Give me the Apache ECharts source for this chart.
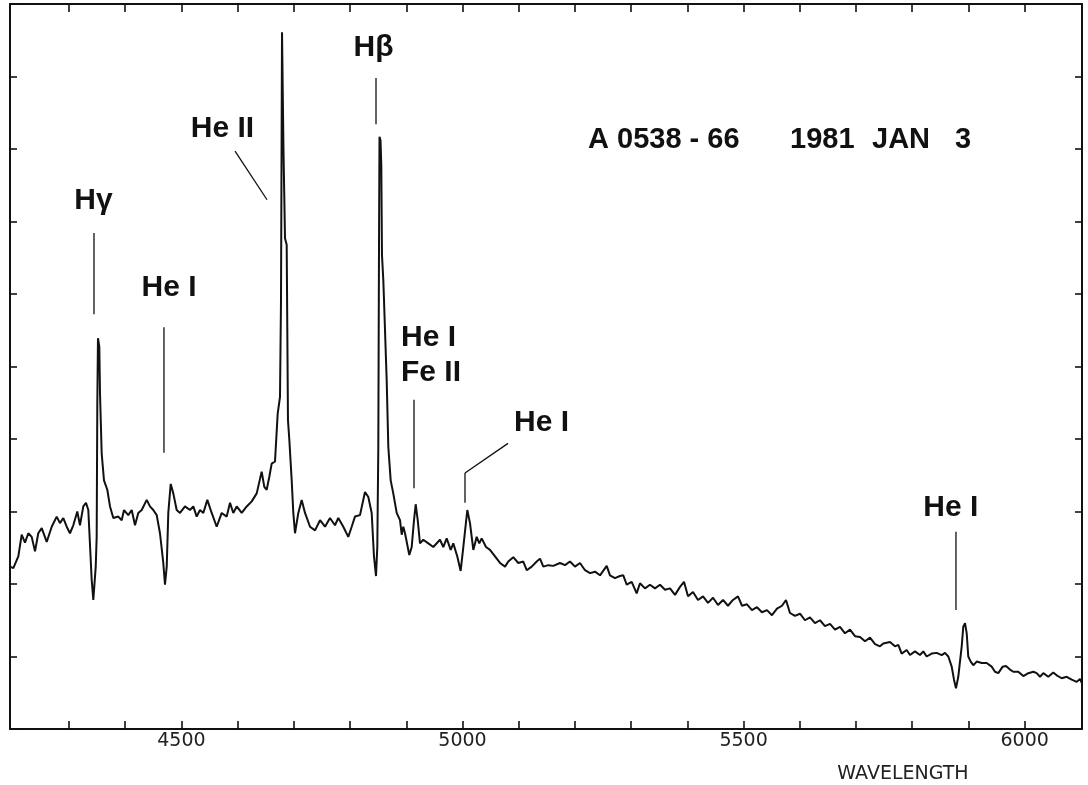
<!DOCTYPE html>
<html>
<head>
<meta charset="utf-8">
<script src="https://cdn.jsdelivr.net/npm/echarts@6/dist/echarts.min.js"></script>
<style>
html,body{margin:0;padding:0;background:#fff;}
#chart{width:1088px;height:785px;}
</style>
</head>
<body>
<div id="chart"></div>
<script>
// ---- data (wavelength in Angstrom, relative flux) ----
const wavelength = [
4195,4200.9,4209.8,4215.8,4221.7,4227.6,4233.6,4239.5,4245.3,4251.4,4260.3,4269.2,4278.1,4283.9,4289.8,4295.9,4301.7,4307.6,4314.7,4319.5,
4325.4,4330.2,4334.3,4340.3,4343.2,4347.5,4349.2,4350.3,4351.5,4353.9,4355.1,4358.1,4362.2,4368.1,4372.9,4378.8,4387.7,4393.7,4397.8,4405.4,
4411.5,4417.4,4423.2,4429.3,4438.2,4444.0,4449.9,4456.0,4461.8,4467.7,4470.7,4473.8,4476.6,4480.9,4485.5,4491.5,4497.4,4506.3,4515.2,4521.1,
4527.1,4533.0,4538.9,4546.0,4553.8,4562.7,4571.6,4580.5,4586.4,4592.2,4598.3,4607.2,4616.1,4625.0,4633.9,4642.7,4647.4,4651.6,4656.3,4660.5,
4666.4,4671.2,4675.3,4677.1,4678.3,4678.9,4680.6,4681.5,4684.2,4687.2,4689.5,4691.9,4696.1,4699.0,4702.0,4707.9,4713.9,4719.8,4728.7,4737.6,
4746.5,4755.4,4764.2,4773.1,4779.0,4787.9,4796.8,4802.8,4808.7,4817.6,4826.5,4832.4,4838.4,4842.5,4846.1,4848.4,4850.2,4851.4,4852.3,4854.1,
4855.5,4856.7,4859.1,4860.3,4865.1,4868.0,4872.2,4876.8,4882.9,4888.8,4891.8,4894.6,4897.7,4905.3,4909.6,4913.7,4916.7,4920.3,4924.3,4930.2,
4939.1,4948.0,4959.9,4965.8,4971.8,4979.0,4983.6,4990.7,4996.7,5001.4,5008.5,5013.3,5019.2,5025.2,5029.8,5034.1,5041.8,5048.9,5057.8,5066.7,
5075.6,5081.4,5090.3,5099.2,5108.1,5114.2,5123.1,5132.0,5137.8,5143.7,5152.6,5161.5,5173.4,5182.3,5191.2,5200.1,5209.0,5217.9,5226.8,5235.7,
5244.6,5256.5,5262.3,5271.2,5280.1,5286.0,5292.1,5300.9,5309.8,5315.7,5324.6,5333.5,5342.4,5351.3,5360.2,5369.1,5378.0,5386.9,5394.0,5401.1,
5410.0,5418.9,5427.8,5436.7,5445.6,5454.5,5463.4,5472.2,5481.1,5490.0,5497.2,5506.0,5514.9,5523.8,5532.7,5541.6,5550.5,5559.4,5568.3,5575.4,
5582.5,5591.4,5600.3,5609.2,5618.1,5627.0,5635.9,5644.8,5653.7,5662.6,5671.5,5680.4,5689.3,5698.2,5707.1,5716.0,5724.9,5733.8,5742.6,5748.5,
5760.4,5769.3,5775.2,5781.2,5790.1,5796.0,5804.9,5813.8,5819.7,5825.7,5834.6,5843.5,5852.4,5858.3,5864.2,5870.2,5874.3,5877.8,5881.9,5888.0,
5890.8,5893.9,5896.9,5899.7,5904.0,5908.6,5914.7,5923.6,5932.4,5941.3,5947.2,5953.1,5960.9,5966.8,5973.9,5979.8,5988.7,5997.6,6006.5,6015.4,
6021.4,6027.3,6033.2,6042.0,6050.9,6057.0,6065.9,6074.8,6083.7,6092.6,6098.4,6102.0
];
const flux = [
2.24,2.22,2.38,2.68,2.57,2.70,2.65,2.45,2.70,2.77,2.58,2.79,2.93,2.84,2.91,2.79,2.70,2.81,3.00,2.81,
3.07,3.12,3.02,2.06,1.78,2.24,2.65,4.45,5.39,5.27,4.63,3.80,3.43,3.30,3.07,2.91,2.93,2.88,3.02,2.95,
3.02,2.81,2.98,3.02,3.16,3.07,3.02,2.95,2.70,2.29,1.99,2.24,2.98,3.38,3.25,3.02,2.98,3.07,3.02,3.07,
2.93,3.02,2.98,3.16,2.98,2.79,2.98,2.93,3.12,2.98,3.07,2.98,3.07,3.14,3.25,3.55,3.34,3.30,3.48,3.66,
3.69,4.35,4.58,5.92,8.40,9.61,9.61,7.99,6.77,6.68,4.26,3.99,3.43,2.98,2.70,2.98,3.16,2.98,2.79,2.74,
2.88,2.79,2.91,2.81,2.91,2.79,2.65,2.79,2.93,2.95,3.27,3.20,2.98,2.38,2.11,2.51,3.89,6.61,8.17,8.12,
7.78,6.54,6.19,5.92,4.81,3.89,3.43,3.25,2.98,2.88,2.68,2.79,2.70,2.40,2.51,2.88,3.10,2.88,2.56,2.61,
2.56,2.51,2.61,2.51,2.63,2.47,2.56,2.38,2.18,2.51,3.02,2.84,2.47,2.65,2.56,2.63,2.51,2.47,2.38,2.29,
2.24,2.31,2.37,2.29,2.31,2.19,2.24,2.31,2.35,2.24,2.26,2.25,2.29,2.26,2.31,2.24,2.29,2.19,2.15,2.17,
2.12,2.25,2.12,2.08,2.11,2.12,1.99,2.03,1.87,2.01,1.94,1.99,1.94,1.99,1.92,1.94,1.85,1.96,2.03,1.83,
1.89,1.78,1.83,1.74,1.81,1.71,1.78,1.70,1.78,1.83,1.70,1.72,1.64,1.68,1.61,1.64,1.57,1.66,1.70,1.78,
1.60,1.56,1.59,1.50,1.54,1.46,1.50,1.42,1.45,1.37,1.41,1.32,1.37,1.28,1.27,1.21,1.26,1.17,1.14,1.18,
1.20,1.14,1.16,1.04,1.09,1.02,1.07,1.02,1.07,1.00,1.04,1.05,1.02,1.05,1.00,0.86,0.68,0.56,0.72,1.14,
1.41,1.46,1.32,1.00,0.93,0.88,0.93,0.91,0.91,0.86,0.79,0.77,0.86,0.87,0.82,0.79,0.79,0.73,0.77,0.79,
0.77,0.72,0.77,0.72,0.78,0.74,0.70,0.72,0.68,0.65,0.69,0.63
];
const tickValues = [4300,4400,4500,4600,4700,4800,4900,5000,5100,5200,5300,5400,5500,5600,5700,5800,5900,6000];
const labelValues = [4500,5000,5500,6000];
const lineNames = ['Hγ','He I','He II','Hβ','He I','Fe II','He I','He I'];
const xTitle = 'WAVELENGTH';
const titleParts = ['A 0538 - 66','1981','JAN','3'];

// ---- layout of annotations (data coordinates) ----
const annLabelPos = [ // [lambda, value, align]
  [4343.5,7.28,'center'],[4477.8,6.09,'center'],[4573.0,8.28,'center'],[4841.6,9.39,'center'],
  [4890.5,5.40,'left'],[4890.5,4.92,'left'],[5091.6,4.23,'left'],[5868.6,3.05,'center']
];
const annSegments = [ // [l1,v1,l2,v2]
  [4344.4,6.84,4344.4,5.72],[4468.9,5.54,4468.9,3.81],[4595.3,7.97,4652.2,7.30],
  [4846.1,8.98,4846.1,8.34],[4913.7,4.54,4913.7,3.32],
  [5080.9,3.94,5004.4,3.53],[5004.4,3.53,5004.4,3.12],[5877.8,2.72,5877.8,1.64]
];

const chart = echarts.init(document.getElementById('chart'), null, {renderer:'canvas'});
const ink = '#111';
const data = wavelength.map((w,i)=>[w, flux[i]]);
const xMin = 4195, xMax = 6102;
const tickFont = '"DejaVu Sans", sans-serif';

function xAx(pos, showLabel){
  return {
    type:'value', position:pos, min:xMin, max:xMax,
    axisLine:{show:true, onZero:false, lineStyle:{color:ink, width:2}},
    axisTick:{show:true, inside:true, length:8, customValues:tickValues, lineStyle:{color:ink, width:1.6}},
    axisLabel:{show:showLabel, customValues:labelValues, margin:3, fontFamily:tickFont, fontSize:19, color:'#222',
      formatter:(v)=>String(v)},
    splitLine:{show:false}
  };
}
function yAx(pos){
  return {
    type:'value', position:pos, min:0, max:10, interval:1,
    axisLine:{show:true, onZero:false, lineStyle:{color:ink, width:2}},
    axisTick:{show:true, inside:true, length:7, lineStyle:{color:ink, width:1.6}},
    axisLabel:{show:false}, splitLine:{show:false}
  };
}

chart.setOption({
  animation:false,
  backgroundColor:'#fff',
  grid:{left:10, right:6, top:4, bottom:56},
  xAxis:[xAx('bottom', true), xAx('top', false)],
  yAxis:[yAx('left'), yAx('right')],
  series:[{
    type:'line', xAxisIndex:0, yAxisIndex:0, data:data,
    showSymbol:false, symbol:'none', smooth:false,
    lineStyle:{color:ink, width:2}
  }]
});

const P = (l,v)=>chart.convertToPixel({xAxisIndex:0, yAxisIndex:0}, [l,v]);
const g = [];
const boldFont = 'bold 30px "Liberation Sans", Arial, sans-serif';
annSegments.forEach(s=>{
  const a = P(s[0],s[1]), b = P(s[2],s[3]);
  g.push({type:'line', shape:{x1:a[0],y1:a[1],x2:b[0],y2:b[1]}, style:{stroke:ink, lineWidth:1.3}, silent:true});
});
annLabelPos.forEach((p,i)=>{
  const q = P(p[0],p[1]);
  g.push({type:'text', x:q[0], y:q[1], silent:true,
    style:{text:lineNames[i], font:boldFont, fill:ink, align:p[2], verticalAlign:'middle', textAlign:p[2], textVerticalAlign:'middle'}});
});
const titleX = [588,790,872,955];
titleParts.forEach((t,i)=>{
  g.push({type:'text', x:titleX[i], y:140, silent:true,
    style:{text:t, font:'bold 29px "Liberation Sans", Arial, sans-serif', fill:ink, align:'left', verticalAlign:'middle', textAlign:'left', textVerticalAlign:'middle'}});
});
g.push({type:'text', x:903, y:774, silent:true,
  style:{text:xTitle, font:'19px "DejaVu Sans", sans-serif', fill:'#222', align:'center', verticalAlign:'middle', textAlign:'center', textVerticalAlign:'middle'}});
chart.setOption({graphic:g});
</script>
</body>
</html>
